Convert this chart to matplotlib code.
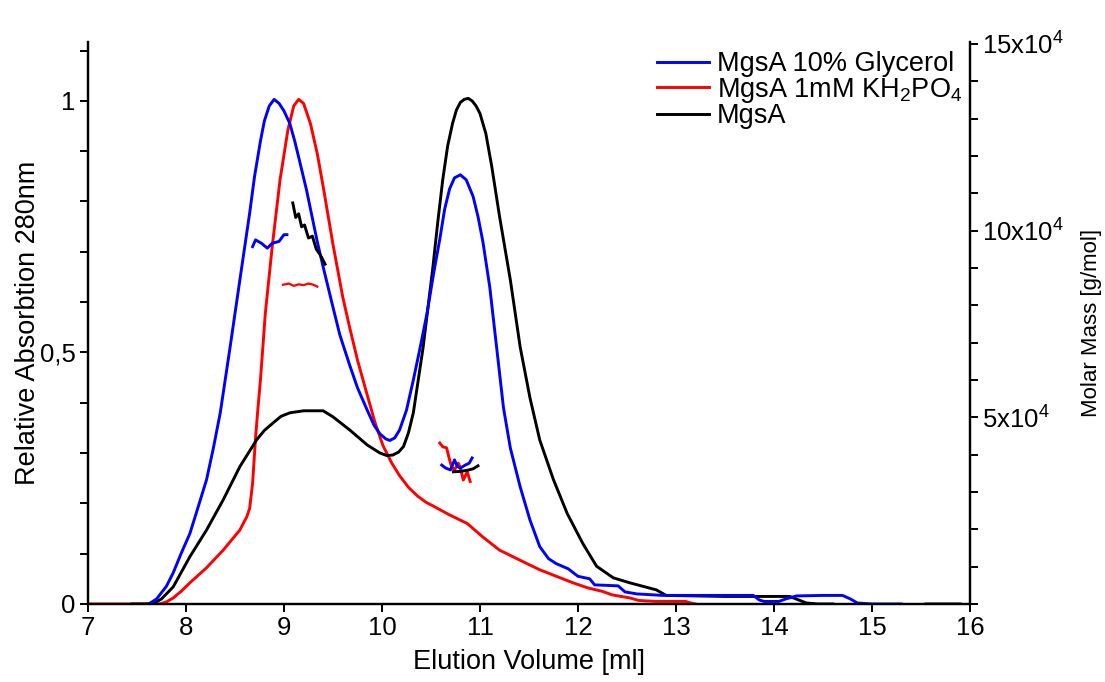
import numpy as np
import matplotlib
matplotlib.use("Agg")
import matplotlib.pyplot as plt
from matplotlib.ticker import MultipleLocator, FixedLocator, FuncFormatter

plt.rcParams['font.family'] = ['Liberation Sans', 'DejaVu Sans']
plt.rcParams['mathtext.default'] = 'regular'

# ---------------- data ----------------
# Relative absorption traces (x = elution volume ml, y = relative absorption)
glyc_x = [7.62, 7.7, 7.8, 7.87, 7.95, 8.04, 8.12, 8.21, 8.28, 8.35, 8.45, 8.55, 8.65, 8.7, 8.76, 8.8,
          8.85, 8.9, 8.95, 9.0, 9.06, 9.11, 9.16, 9.23, 9.34, 9.4, 9.5, 9.57, 9.67, 9.75, 9.85, 9.92,
          9.98, 10.04, 10.08, 10.13, 10.18, 10.25, 10.32, 10.39, 10.46, 10.53, 10.59, 10.64, 10.69,
          10.74, 10.8, 10.86, 10.93, 10.98, 11.03, 11.1, 11.17, 11.24, 11.31, 11.41, 11.51, 11.61, 11.7,
          11.78, 11.9, 12.0, 12.12, 12.17, 12.41, 12.48, 12.6, 12.87, 13.5, 13.79, 13.85, 13.9, 14.05,
          14.12, 14.23, 14.5, 14.7, 14.78, 14.85, 15.0, 15.3]
glyc_y = [0.0, 0.01, 0.035, 0.062, 0.1, 0.14, 0.19, 0.247, 0.31, 0.38, 0.51, 0.644, 0.777, 0.85, 0.92, 0.96,
          0.99, 1.003, 0.995, 0.98, 0.955, 0.92, 0.88, 0.823, 0.72, 0.67, 0.59, 0.535, 0.475, 0.43, 0.385,
          0.355, 0.338, 0.328, 0.325, 0.33, 0.346, 0.385, 0.445, 0.51, 0.578, 0.66, 0.725, 0.785, 0.825,
          0.847, 0.853, 0.843, 0.81, 0.77, 0.72, 0.63, 0.51, 0.39, 0.31, 0.233, 0.167, 0.114, 0.09,
          0.08, 0.07, 0.055, 0.05, 0.038, 0.036, 0.024, 0.02, 0.017, 0.017, 0.017, 0.008, 0.005, 0.005,
          0.01, 0.016, 0.017, 0.017, 0.01, 0.002, 0.0, 0.0]

kh2po4_x = [7.0, 7.73, 7.8, 7.87, 7.95, 8.04, 8.21, 8.38, 8.55, 8.62, 8.65, 8.68, 8.71, 8.735, 8.76,
            8.81, 8.88, 8.96, 9.04, 9.1, 9.15, 9.2, 9.27, 9.34, 9.4, 9.5, 9.6, 9.67, 9.75, 9.85, 9.93,
            10.01, 10.1, 10.18, 10.27, 10.36, 10.45, 10.52, 10.69, 10.87, 11.03, 11.2, 11.44, 11.61,
            11.78, 11.95, 12.1, 12.25, 12.35, 12.53, 12.62, 12.8, 13.1, 13.15, 13.2]
kh2po4_y = [0.0, 0.0, 0.004, 0.012, 0.025, 0.042, 0.072, 0.107, 0.147, 0.173, 0.19, 0.24, 0.33, 0.39,
            0.445, 0.578, 0.71, 0.843, 0.942, 0.99, 1.003, 0.995, 0.955, 0.895, 0.83, 0.715, 0.61, 0.55,
            0.485, 0.415, 0.36, 0.315, 0.28, 0.255, 0.232, 0.215, 0.202, 0.195, 0.177, 0.16, 0.133,
            0.107, 0.084, 0.068, 0.055, 0.042, 0.032, 0.025, 0.018, 0.012, 0.007, 0.005, 0.005, 0.002,
            0.0]

mgsa_x = [7.45, 7.66, 7.75, 7.87, 8.04, 8.21, 8.38, 8.55, 8.72, 8.8, 8.89, 8.97, 9.06, 9.2, 9.4, 9.5,
          9.67, 9.85, 9.98, 10.05, 10.11, 10.17, 10.22, 10.27, 10.32, 10.37, 10.42, 10.47, 10.52, 10.57,
          10.62, 10.67, 10.72, 10.76, 10.8, 10.84, 10.88, 10.92, 10.96, 11.0, 11.06, 11.12, 11.2, 11.31,
          11.41, 11.51, 11.61, 11.75, 11.89, 12.05, 12.19, 12.36, 12.53, 12.8, 12.9, 13.5, 14.16, 14.33,
          14.45, 14.6, np.nan, 15.55, 15.9]
mgsa_y = [0.0, 0.0, 0.01, 0.034, 0.094, 0.147, 0.207, 0.273, 0.326, 0.345, 0.36, 0.373, 0.38, 0.384,
          0.384, 0.372, 0.346, 0.316, 0.3, 0.295, 0.296, 0.302, 0.313, 0.34, 0.38, 0.445, 0.51, 0.59,
          0.67, 0.76, 0.843, 0.91, 0.955, 0.982, 0.997, 1.003, 1.005, 1.0, 0.99, 0.975, 0.935, 0.87,
          0.77, 0.644, 0.511, 0.41, 0.326, 0.247, 0.18, 0.12, 0.075, 0.052, 0.042, 0.028, 0.017, 0.015,
          0.015, 0.002, 0.0, 0.0, np.nan, 0.0, 0.0]

# Molar mass segments (x = ml, y = g/mol)
mm_glyc1_x = [8.68, 8.71, 8.77, 8.83, 8.88, 8.95, 9.0, 9.03]
mm_glyc1_y = [9.57e4, 9.75e4, 9.66e4, 9.53e4, 9.66e4, 9.71e4, 9.89e4, 9.89e4]
mm_kh1_x = [8.99, 9.05, 9.1, 9.15, 9.2, 9.25, 9.3, 9.34]
mm_kh1_y = [8.55e4, 8.58e4, 8.52e4, 8.56e4, 8.54e4, 8.58e4, 8.55e4, 8.5e4]
mm_mgsa1_x = [9.09, 9.12, 9.15, 9.18, 9.21, 9.25, 9.29, 9.33, 9.37, 9.42]
mm_mgsa1_y = [10.74e4, 10.35e4, 10.45e4, 10.1e4, 10.15e4, 9.8e4, 9.85e4, 9.5e4, 9.35e4, 9.1e4]

mm_kh2_x = [10.59, 10.62, 10.66, 10.69, 10.71, 10.74, 10.78, 10.8, 10.83, 10.87, 10.9]
mm_kh2_y = [4.31e4, 4.21e4, 4.18e4, 3.86e4, 3.68e4, 3.59e4, 3.77e4, 3.64e4, 3.32e4, 3.54e4, 3.28e4]
mm_glyc2_x = [10.61, 10.65, 10.7, 10.74, 10.77, 10.8, 10.85, 10.89, 10.92]
mm_glyc2_y = [3.72e4, 3.64e4, 3.59e4, 3.86e4, 3.68e4, 3.64e4, 3.72e4, 3.77e4, 3.91e4]
mm_mgsa2_x = [10.73, 10.8, 10.87, 10.93, 10.98]
mm_mgsa2_y = [3.54e4, 3.55e4, 3.58e4, 3.62e4, 3.7e4]

labels = ['MgsA 10% Glycerol', 'MgsA 1mM KH$_2$PO$_4$', 'MgsA']
x_ticks = list(range(7, 17))
right_tick_vals = [5e4, 10e4, 15e4]
right_tick_labels = ['5x10$^{4}$', '10x10$^{4}$', '15x10$^{4}$']

# ---------------- plot ----------------
BLUE = '#0000ff'
RED = '#ff0000'
BLACK = '#000000'
LW = 2.1

fig = plt.figure(figsize=(11.05, 6.82), dpi=100)
ax = fig.add_axes([0.0796, 0.1144, 0.7982, 0.8240])
ax2 = ax.twinx()

ax.plot(kh2po4_x, kh2po4_y, color=RED, lw=LW, label=labels[1], zorder=3)
ax.plot(mgsa_x, mgsa_y, color=BLACK, lw=LW, label=labels[2], zorder=3)
ax.plot(glyc_x, glyc_y, color=BLUE, lw=LW, label=labels[0], zorder=4)

ax2.plot(mm_glyc1_x, mm_glyc1_y, color=BLUE, lw=LW)
ax2.plot(mm_kh1_x, mm_kh1_y, color=RED, lw=1.6)
ax2.plot(mm_mgsa1_x, mm_mgsa1_y, color=BLACK, lw=LW)
ax2.plot(mm_kh2_x, mm_kh2_y, color=RED, lw=LW)
ax2.plot(mm_glyc2_x, mm_glyc2_y, color=BLUE, lw=LW)
ax2.plot(mm_mgsa2_x, mm_mgsa2_y, color=BLACK, lw=LW)

ax.set_xlim(7, 16)
ax.set_ylim(0, 1.117)
ax2.set_ylim(0, 15.05e4)

for a in (ax, ax2):
    a.spines['top'].set_visible(False)
    for s in ('left', 'right', 'bottom'):
        a.spines[s].set_linewidth(1.6)

ax.set_xticks(x_ticks)
ax.set_xticklabels([str(v) for v in x_ticks])
ax.yaxis.set_major_locator(FixedLocator([0, 0.5, 1.0]))
ax.yaxis.set_major_formatter(FuncFormatter(lambda v, p: ('%g' % v).replace('.', ',')))
ax.yaxis.set_minor_locator(MultipleLocator(0.1))
ax2.yaxis.set_major_locator(FixedLocator(right_tick_vals))
ax2.set_yticklabels(right_tick_labels)
ax2.yaxis.set_minor_locator(MultipleLocator(1e4))

ax.tick_params(axis='both', which='both', direction='out', width=1.4, length=6, labelsize=18.5, pad=3)
ax2.tick_params(axis='y', which='both', direction='out', width=1.4, length=6, labelsize=18.5, pad=3)

ax.set_xlabel('Elution Volume [ml]', fontsize=19.5, labelpad=6)
ax.set_ylabel('Relative Absorbtion 280nm', fontsize=19.5, labelpad=-1)
ax2.set_ylabel('Molar Mass [g/mol]', fontsize=16, labelpad=12)

handles, labs = ax.get_legend_handles_labels()
order = [labs.index(l) for l in labels]
leg = ax.legend([handles[i] for i in order], [labs[i] for i in order],
                loc='upper left', bbox_to_anchor=(0.595, 0.925), bbox_transform=fig.transFigure,
                frameon=False, fontsize=19.5, handlelength=1.9, handletextpad=0.3,
                labelspacing=-0.05, borderpad=0, borderaxespad=0)

fig.savefig('out.png', dpi=100)
